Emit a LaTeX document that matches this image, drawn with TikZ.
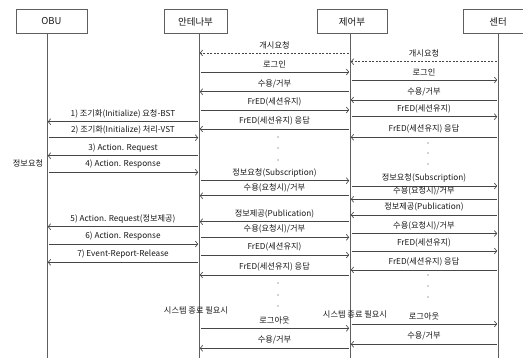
\documentclass[tikz,border=0pt]{standalone}
\usepackage{fontspec}
\setmainfont{Noto Sans CJK KR}
\usetikzlibrary{arrows.meta}
\definecolor{linec}{RGB}{70,70,70}
\definecolor{lifec}{RGB}{95,95,95}
\definecolor{txtc}{RGB}{25,25,25}
\tikzset{
 actor/.style={draw=lifec, line width=0.6pt, fill=white, minimum height=24pt, inner sep=0pt,
   font=\fontsize{9.5}{10}\selectfont, text=txtc},
 lifeline/.style={draw=lifec, line width=0.6pt},
 msgline/.style={draw=linec, line width=0.65pt, shorten <=1.5pt, shorten >=0.8pt,
   -{Straight Barb[length=2.5pt,width=6pt]}},
 asyncline/.style={msgline, dash pattern=on 2pt off 1.5pt},
 lbl/.style={font=\fontsize{8.2}{9}\selectfont, text=txtc, inner sep=0pt},
 dotmark/.style={fill=linec, draw=none},
 note/.style={font=\fontsize{8.2}{9}\selectfont, text=txtc, inner sep=0pt}
}
\newcommand\mymsg[5]{\draw[#1] (#2 |- 0,#4) -- (#3 |- 0,#4) node[lbl, midway, yshift=8pt]{#5};}
\begin{document}
\begin{tikzpicture}[x=1pt,y=-1pt]
\useasboundingbox (0,0) rectangle (523,358);
\clip (0,0) rectangle (523,358);
\fill[white] (0,0) rectangle (523,358);
% lifeline anchors
\coordinate (O) at (47,33);
\coordinate (A) at (199,33);
\coordinate (C) at (350,33);
\coordinate (S) at (498,33);
\coordinate (Ob) at (47,360);
\coordinate (Ab) at (199,360);
\coordinate (Cb) at (350,360);
\coordinate (Sb) at (498,360);
\draw[lifeline] (O) -- (Ob);
\draw[lifeline] (A) -- (Ab);
\draw[lifeline] (C) -- (Cb);
\draw[lifeline] (S) -- (Sb);
% actor boxes
\node[actor, minimum width=71pt] (obu) at (51.5,21.5) {OBU};
\node[actor, minimum width=63pt] (ant) at (195.5,21.5) {안테나부};
\node[actor, minimum width=70pt] (ctl) at (352,21.5) {제어부};
\node[actor, minimum width=70pt] (cen) at (498,21.5) {센터};
% antenna <-> control
\mymsg{asyncline}{C}{A}{53}{개시요청}
\mymsg{msgline}{A}{C}{72}{로그인}
\mymsg{msgline}{C}{A}{91.7}{수용/거부}
\mymsg{msgline}{A}{C}{110}{FrED(세션유지)}
\mymsg{msgline}{C}{A}{129}{FrED(세션유지) 응답}
\mymsg{msgline}{A}{C}{180.7}{정보요청(Subscription)}
\mymsg{msgline}{C}{A}{195.7}{수용(요청시)/거부}
\mymsg{msgline}{C}{A}{221.7}{정보제공(Publication)}
\mymsg{msgline}{A}{C}{237.3}{수용(요청시)/거부}
\mymsg{msgline}{A}{C}{255}{FrED(세션유지)}
\mymsg{msgline}{C}{A}{275}{FrED(세션유지) 응답}
\mymsg{msgline}{A}{C}{328.3}{로그아웃}
\mymsg{msgline}{C}{A}{348.3}{수용/거부}
% control <-> center
\mymsg{asyncline}{S}{C}{61.7}{개시요청}
\mymsg{msgline}{C}{S}{80}{로그인}
\mymsg{msgline}{S}{C}{100}{수용/거부}
\mymsg{msgline}{C}{S}{116.7}{FrED(세션유지)}
\mymsg{msgline}{S}{C}{137.3}{FrED(세션유지) 응답}
\mymsg{msgline}{C}{S}{186}{정보요청(Subscription)}
\mymsg{msgline}{S}{C}{199.3}{수용(요청시)/거부}
\mymsg{msgline}{S}{C}{215}{정보제공(Publication)}
\mymsg{msgline}{C}{S}{233.5}{수용(요청시)/거부}
\mymsg{msgline}{C}{S}{251}{FrED(세션유지)}
\mymsg{msgline}{S}{C}{270}{FrED(세션유지) 응답}
\mymsg{msgline}{C}{S}{324}{로그아웃}
\mymsg{msgline}{S}{C}{344.3}{수용/거부}
% OBU <-> antenna
\mymsg{msgline}{A}{O}{121.7}{1) 조기화(Initialize) 요청-BST}
\mymsg{msgline}{O}{A}{137.7}{2) 조기화(Initialize) 처리-VST}
\mymsg{msgline}{A}{O}{155.7}{3) Action. Request}
\mymsg{msgline}{O}{A}{172.3}{4) Action. Response}
\mymsg{msgline}{A}{O}{226.7}{5) Action. Request(정보제공)}
\mymsg{msgline}{O}{A}{244}{6) Action. Response}
\mymsg{msgline}{A}{O}{262.3}{7) Event-Report-Release}
% dots
\foreach \yy in {137,148,160} {\fill[dotmark] (278,\yy) circle (0.7pt);}
\foreach \yy in {143,153,164} {\fill[dotmark] (428,\yy) circle (0.7pt);}
\foreach \yy in {283,295,306} {\fill[dotmark] (278,\yy) circle (0.7pt);}
\foreach \yy in {275,286,297} {\fill[dotmark] (428,\yy) circle (0.7pt);}
% notes
\node[note] (req) at (28,163) {정보요청};
\node[note] (end1) at (196,310) {시스템 종료 필요시};
\node[note] (end2) at (355,314) {시스템 종료 필요시};
\end{tikzpicture}
\end{document}
